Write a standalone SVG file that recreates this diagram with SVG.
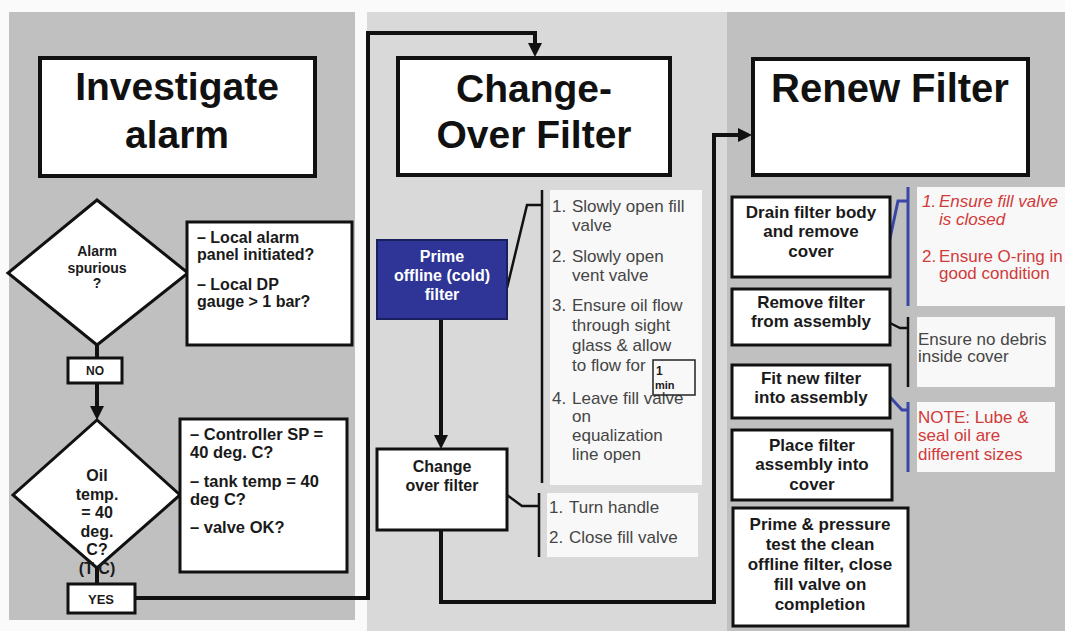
<svg xmlns="http://www.w3.org/2000/svg" width="1065" height="631" viewBox="0 0 1065 631">
<defs>
<style>
text{font-family:"Liberation Sans",Arial,sans-serif}
.title{font-size:39px;font-weight:bold;fill:#111;text-anchor:middle}
.tbox{fill:#fff;stroke:#111;stroke-width:4}
.box{fill:#fff;stroke:#111;stroke-width:3}
.b{font-weight:bold;fill:#1a1a1a}
.c{text-anchor:middle}
.step{font-size:17px;fill:#454545}
.red{font-size:17px;fill:#d23a3a}
.note{fill:#f8f8f8}
.conn{fill:none;stroke:#111;stroke-width:4}
.brk{fill:none;stroke:#111;stroke-width:2.5}
.blue{fill:none;stroke:#3a46a6;stroke-width:3}
</style>
<marker id="arr" markerUnits="userSpaceOnUse" markerWidth="16" markerHeight="16" refX="10" refY="7" orient="auto">
<path d="M0,0 L14,7 L0,14 z" fill="#111"/>
</marker>
</defs>
<rect x="0" y="0" width="1065" height="631" fill="#fafafa"/>
<rect x="9" y="12" width="346" height="608" fill="#c0c0c0"/>
<rect x="367" y="12" width="360" height="619" fill="#d9d9d9"/>
<rect x="727" y="12" width="338" height="619" fill="#c0c0c0"/>

<g id="connectors">
<path class="conn" d="M135,598 H368 V33 H535 V53" marker-end="url(#arr)"/>
<path class="conn" d="M441,530 V602 H714 V135 H748" marker-end="url(#arr)"/>
<path class="conn" d="M97,345 V358"/>
<path class="conn" d="M97,383 V416" marker-end="url(#arr)"/>
<path class="conn" d="M97,568 V584"/>
<path class="conn" d="M441,319 V445" marker-end="url(#arr)"/>
<path class="brk" d="M507,288 L527,205 H542 M542,190 V483"/>
<path class="brk" d="M507,495 L522,506 H539 M539,493 V557"/>
<path class="blue" d="M889,243 L898,201 H908 M908,187 V306"/>
<path class="brk" d="M890,323 L900,328 H908 M908,317 V387"/>
<path class="blue" d="M890,397 L902,410 H908 M908,402 V472"/>
</g>

<g id="investigate-alarm">
<rect class="tbox" x="40" y="58" width="275" height="118"/>
<text class="title" x="177" y="100">Investigate</text>
<text class="title" x="177" y="148">alarm</text>
</g>

<g id="change-over-title">
<rect class="tbox" x="398" y="58" width="272" height="117"/>
<text class="title" x="534" y="102">Change-</text>
<text class="title" x="534" y="148">Over Filter</text>
</g>

<g id="renew-filter-title">
<rect class="tbox" x="753" y="59" width="275" height="116"/>
<text class="title" x="890" y="102" style="font-size:40px">Renew Filter</text>
</g>

<g id="alarm-spurious">
<polygon points="97,200 188,273 97,345 8,273" fill="#fff" stroke="#111" stroke-width="3"/>
<text class="b c" x="97" y="256" font-size="14">Alarm</text>
<text class="b c" x="97" y="273" font-size="14">spurious</text>
<text class="b c" x="97" y="288" font-size="14">?</text>
</g>

<g id="alarm-checks">
<rect class="box" x="187" y="222" width="165" height="123"/>
<text class="b" x="197" y="243" font-size="16">– Local alarm</text>
<text class="b" x="197" y="260" font-size="16">panel initiated?</text>
<text class="b" x="197" y="290" font-size="16">– Local DP</text>
<text class="b" x="197" y="307" font-size="16">gauge &gt; 1 bar?</text>
</g>

<g id="no-label">
<rect class="box" x="68" y="358" width="54" height="25"/>
<text class="b c" x="95" y="375" font-size="12">NO</text>
</g>

<g id="oil-temp">
<polygon points="97,420 180,495 97,568 13,495" fill="#fff" stroke="#111" stroke-width="3"/>
<text class="b c" x="97" y="481" font-size="16">Oil</text>
<text class="b c" x="97" y="500" font-size="16">temp.</text>
<text class="b c" x="97" y="518" font-size="16">= 40</text>
<text class="b c" x="97" y="537" font-size="16">deg.</text>
<text class="b c" x="97" y="555" font-size="16">C?</text>
<text class="b c" x="97" y="574" font-size="16">(T C)</text>
</g>

<g id="temp-checks">
<rect class="box" x="180" y="419" width="167" height="153"/>
<text class="b" x="190" y="440" font-size="16.5">– Controller SP =</text>
<text class="b" x="190" y="458" font-size="16.5">40 deg. C?</text>
<text class="b" x="190" y="487" font-size="16.5">– tank temp = 40</text>
<text class="b" x="190" y="505" font-size="16.5">deg C?</text>
<text class="b" x="190" y="533" font-size="16.5">– valve OK?</text>
</g>

<g id="yes-label">
<rect class="box" x="68" y="584" width="67" height="29"/>
<text class="b c" x="101" y="604" font-size="13">YES</text>
</g>

<g id="prime-offline">
<rect x="377" y="240" width="130" height="79" fill="#2e3596" stroke="#1a1f5e" stroke-width="2"/>
<text class="c" x="442" y="262" font-size="16" font-weight="bold" fill="#fff">Prime</text>
<text class="c" x="442" y="281" font-size="16" font-weight="bold" fill="#fff">offline (cold)</text>
<text class="c" x="442" y="300" font-size="16" font-weight="bold" fill="#fff">filter</text>
</g>

<g id="prime-steps">
<rect class="note" x="550" y="190" width="152" height="295"/>
<text class="step" x="552" y="212">1.</text><text class="step" x="572" y="212">Slowly open fill</text>
<text class="step" x="572" y="231">valve</text>
<text class="step" x="552" y="262">2.</text><text class="step" x="572" y="262">Slowly open</text>
<text class="step" x="572" y="281">vent valve</text>
<text class="step" x="552" y="311">3.</text><text class="step" x="572" y="311">Ensure oil flow</text>
<text class="step" x="572" y="331">through sight</text>
<text class="step" x="572" y="351">glass &amp; allow</text>
<text class="step" x="572" y="371">to flow for</text>
<text class="step" x="552" y="404">4.</text><text class="step" x="572" y="404">Leave fill valve</text>
<text class="step" x="572" y="422">on</text>
<text class="step" x="572" y="441">equalization</text>
<text class="step" x="572" y="460">line open</text>
</g>

<g id="one-min">
<rect x="653" y="360" width="42" height="35" fill="none" stroke="#222" stroke-width="1.5"/>
<text class="b" x="656" y="375" font-size="12">1</text>
<text class="b" x="655" y="389" font-size="11">min</text>
</g>

<g id="change-over">
<rect class="box" x="377" y="449" width="130" height="81"/>
<text class="b c" x="442" y="472" font-size="16">Change</text>
<text class="b c" x="442" y="491" font-size="16">over filter</text>
</g>

<g id="change-steps">
<rect class="note" x="547" y="493" width="151" height="64"/>
<text class="step" x="549" y="513">1.</text><text class="step" x="569" y="513">Turn handle</text>
<text class="step" x="549" y="543">2.</text><text class="step" x="569" y="543">Close fill valve</text>
</g>

<g id="drain-filter">
<rect class="box" x="732" y="197" width="158" height="80"/>
<text class="b c" x="811" y="218" font-size="17">Drain filter  body</text>
<text class="b c" x="811" y="237" font-size="17">and remove</text>
<text class="b c" x="811" y="257" font-size="17">cover</text>
</g>

<g id="drain-notes">
<rect class="note" x="917" y="187" width="148" height="119"/>
<text class="red" x="922" y="207" font-style="italic">1.</text><text class="red" x="939" y="207" font-style="italic">Ensure fill valve</text>
<text class="red" x="939" y="225" font-style="italic">is closed</text>
<text class="red" x="922" y="262">2.</text><text class="red" x="939" y="262">Ensure O-ring in</text>
<text class="red" x="939" y="279">good condition</text>
</g>

<g id="remove-filter">
<rect class="box" x="732" y="289" width="158" height="56"/>
<text class="b c" x="811" y="308" font-size="17">Remove filter</text>
<text class="b c" x="811" y="327" font-size="17">from assembly</text>
</g>

<g id="debris-note">
<rect class="note" x="917" y="317" width="138" height="70"/>
<text class="step" x="918" y="345" fill="#3a3a3a">Ensure no debris</text>
<text class="step" x="918" y="362" fill="#3a3a3a">inside cover</text>
</g>

<g id="fit-filter">
<rect class="box" x="732" y="365" width="158" height="53"/>
<text class="b c" x="811" y="384" font-size="17">Fit new filter</text>
<text class="b c" x="811" y="403" font-size="17">into assembly</text>
</g>

<g id="size-note">
<rect class="note" x="917" y="402" width="138" height="70"/>
<text class="red" x="918" y="423">NOTE: Lube &amp;</text>
<text class="red" x="918" y="441">seal oil are</text>
<text class="red" x="918" y="460">different sizes</text>
</g>

<g id="place-filter">
<rect class="box" x="732" y="430" width="160" height="70"/>
<text class="b c" x="812" y="451" font-size="17">Place filter</text>
<text class="b c" x="812" y="470" font-size="17">assembly into</text>
<text class="b c" x="812" y="490" font-size="17">cover</text>
</g>

<g id="prime-pressure">
<rect class="box" x="733" y="508" width="175" height="118"/>
<text class="b c" x="820" y="530" font-size="17">Prime &amp; pressure</text>
<text class="b c" x="820" y="550" font-size="17">test the clean</text>
<text class="b c" x="820" y="570" font-size="17">offline filter, close</text>
<text class="b c" x="820" y="590" font-size="17">fill valve on</text>
<text class="b c" x="820" y="610" font-size="17">completion</text>
</g>
</svg>
